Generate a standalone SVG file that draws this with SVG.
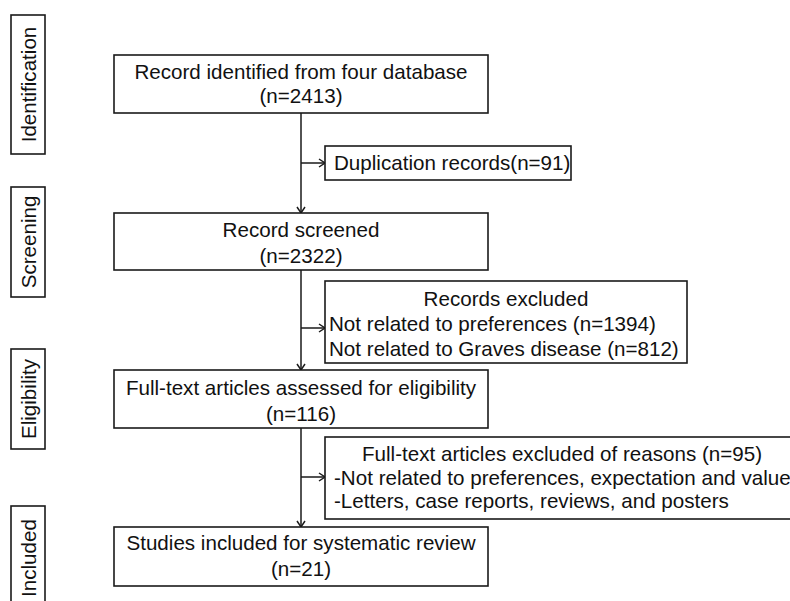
<svg xmlns="http://www.w3.org/2000/svg" width="790" height="601" viewBox="0 0 790 601">
<style>
.box{fill:#fff;stroke:#1a1a1a;stroke-width:1.6}
.t{font-family:"Liberation Sans",Arial,sans-serif;font-size:20.6px;fill:#111}
.c{text-anchor:middle}
.ln{fill:none;stroke:#1a1a1a;stroke-width:1.5}
</style>
<defs>
<marker id="ar" markerUnits="userSpaceOnUse" markerWidth="10" markerHeight="10" refX="8" refY="5" orient="auto">
<path d="M2,1 L8,5 L2,9" fill="none" stroke="#1a1a1a" stroke-width="1.5"/>
</marker>
</defs>
<rect width="790" height="601" fill="#fff"/>
<g id="stage-identification">
<rect class="box" x="11" y="15" width="34" height="139"/>
<text class="t c" transform="translate(35.5,84.5) rotate(-90)">Identification</text>
</g>
<g id="stage-screening">
<rect class="box" x="11" y="187" width="34" height="110"/>
<text class="t c" transform="translate(35.5,242) rotate(-90)">Screening</text>
</g>
<g id="stage-eligibility">
<rect class="box" x="11" y="349" width="34" height="100"/>
<text class="t c" transform="translate(35.5,399) rotate(-90)">Eligibility</text>
</g>
<g id="stage-included">
<rect class="box" x="11" y="506" width="34" height="110"/>
<text class="t c" transform="translate(35.5,558) rotate(-90)">Included</text>
</g>
<g id="connectors">
<line class="ln" x1="301" y1="113" x2="301" y2="213" marker-end="url(#ar)"/>
<line class="ln" x1="301" y1="163" x2="325" y2="163" marker-end="url(#ar)"/>
<line class="ln" x1="301" y1="270" x2="301" y2="370" marker-end="url(#ar)"/>
<line class="ln" x1="301" y1="328" x2="325" y2="328" marker-end="url(#ar)"/>
<line class="ln" x1="301" y1="428" x2="301" y2="527" marker-end="url(#ar)"/>
<line class="ln" x1="301" y1="477" x2="325" y2="477" marker-end="url(#ar)"/>
</g>
<g id="identified">
<rect class="box" x="114" y="55" width="374" height="58"/>
<text class="t c" x="301" y="79">Record identified from four database</text>
<text class="t c" x="301" y="103">(n=2413)</text>
</g>
<g id="duplicates">
<rect class="box" x="325" y="146" width="246" height="34"/>
<text class="t" x="334" y="170">Duplication records(n=91)</text>
</g>
<g id="screened">
<rect class="box" x="114" y="213" width="374" height="57"/>
<text class="t c" x="301" y="237">Record screened</text>
<text class="t c" x="301" y="263">(n=2322)</text>
</g>
<g id="records-excluded">
<rect class="box" x="325" y="281" width="362" height="82"/>
<text class="t c" x="506" y="306">Records excluded</text>
<text class="t" x="329" y="331">Not related to preferences (n=1394)</text>
<text class="t" x="329" y="356">Not related to Graves disease (n=812)</text>
</g>
<g id="assessed">
<rect class="box" x="114" y="370" width="374" height="58"/>
<text class="t c" x="301" y="395">Full-text articles assessed for eligibility</text>
<text class="t c" x="301" y="421">(n=116)</text>
</g>
<g id="fulltext-excluded">
<rect class="box" x="325" y="437" width="480" height="82"/>
<text class="t" x="362" y="461">Full-text articles excluded of reasons (n=95)</text>
<text class="t" x="334" y="485">-Not related to preferences, expectation and value</text>
<text class="t" x="334" y="508">-Letters, case reports, reviews, and posters</text>
</g>
<g id="included">
<rect class="box" x="114" y="527" width="374" height="59"/>
<text class="t c" x="301" y="550">Studies included for systematic review</text>
<text class="t c" x="301" y="576">(n=21)</text>
</g>
</svg>
